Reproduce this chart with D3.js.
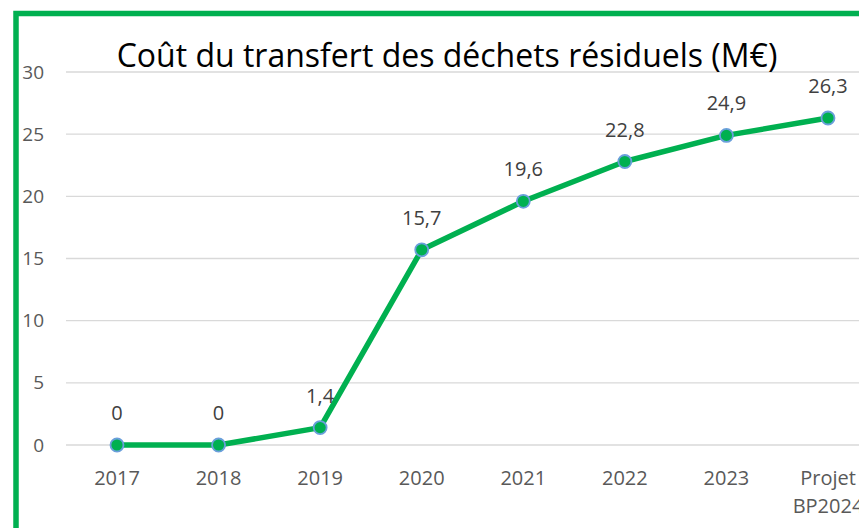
<!DOCTYPE html>
<meta charset="utf-8">
<head>
  <script src="https://cdn.jsdelivr.net/npm/d3@7"></script>
</head>
<style>
  body { margin: 0; background: white; }
  svg { display: block; font-family: "Open Sans", "Noto Sans", sans-serif; }
</style>
<body>
<div id="my_dataviz"></div>
<script>
// data
const years = ["2017", "2018", "2019", "2020", "2021", "2022", "2023", "Projet BP2024"];
const cost = [0, 0, 1.4, 15.7, 19.6, 22.8, 24.9, 26.3];
const yTicks = [0, 5, 10, 15, 20, 25, 30];
const title = "Coût du transfert des déchets résiduels (M€)";

var width = 859, height = 528;
var green = "#00B050";

var svg = d3.select("#my_dataviz").append("svg")
  .attr("width", width)
  .attr("height", height);

// scales
var x = d3.scalePoint()
  .domain(years)
  .range([117, 828]);

var y = d3.scaleLinear()
  .domain([0, 30])
  .range([445, 72]);

// gridlines
svg.append("g")
  .selectAll("line")
  .data(yTicks)
  .enter().append("line")
  .attr("x1", 66).attr("x2", width)
  .attr("y1", function(d) { return y(d); })
  .attr("y2", function(d) { return y(d); })
  .style("stroke", "#d9d9d9")
  .style("stroke-width", 1.3);

// y axis labels
var yAxis = d3.axisLeft(y).tickValues(yTicks).tickSize(0).tickPadding(0);
svg.append("g")
  .attr("transform", "translate(44,0)")
  .call(yAxis)
  .call(function(g) { g.select(".domain").remove(); })
  .selectAll("text")
  .style("font-family", "'Open Sans', sans-serif")
  .style("font-size", "19px")
  .style("fill", "#595959");

// x axis labels (wrap "Projet BP2024" on two lines)
var xl = svg.append("g").selectAll("text")
  .data(years)
  .enter().append("text")
  .attr("x", function(d) { return x(d); })
  .attr("y", 485)
  .attr("text-anchor", "middle")
  .style("font-size", "20px")
  .style("fill", "#595959");
xl.each(function(d) {
  var parts = d.split(" ");
  var t = d3.select(this);
  parts.forEach(function(p, i) {
    t.append("tspan").attr("x", x(d)).attr("dy", i ? 28 : 0).text(p);
  });
});

// line
var line = d3.line()
  .x(function(d, i) { return x(years[i]); })
  .y(function(d) { return y(d); });

svg.append("path")
  .datum(cost)
  .attr("d", line)
  .style("fill", "none")
  .style("stroke", green)
  .style("stroke-width", 5.5)
  .style("stroke-linejoin", "round");

// markers
svg.append("g").selectAll("circle")
  .data(cost)
  .enter().append("circle")
  .attr("cx", function(d, i) { return x(years[i]); })
  .attr("cy", function(d) { return y(d); })
  .attr("r", 6.5)
  .style("fill", green)
  .style("stroke", "#6A9FDB")
  .style("stroke-width", 1.8);

// data labels
svg.append("g").selectAll("text")
  .data(cost)
  .enter().append("text")
  .attr("x", function(d, i) { return x(years[i]); })
  .attr("y", function(d) { return y(d) - 25; })
  .attr("text-anchor", "middle")
  .style("font-size", "20px")
  .style("fill", "#404040")
  .text(function(d) { return String(d).replace(".", ","); });

// title
svg.append("text")
  .attr("x", 447)
  .attr("y", 67)
  .attr("text-anchor", "middle")
  .style("font-size", "32px")
  .style("fill", "#000")
  .text(title);

// green frame
svg.append("path")
  .attr("d", "M16," + height + " V13.5 H" + width)
  .style("fill", "none")
  .style("stroke", green)
  .style("stroke-width", 5.5);
</script>
</body>
